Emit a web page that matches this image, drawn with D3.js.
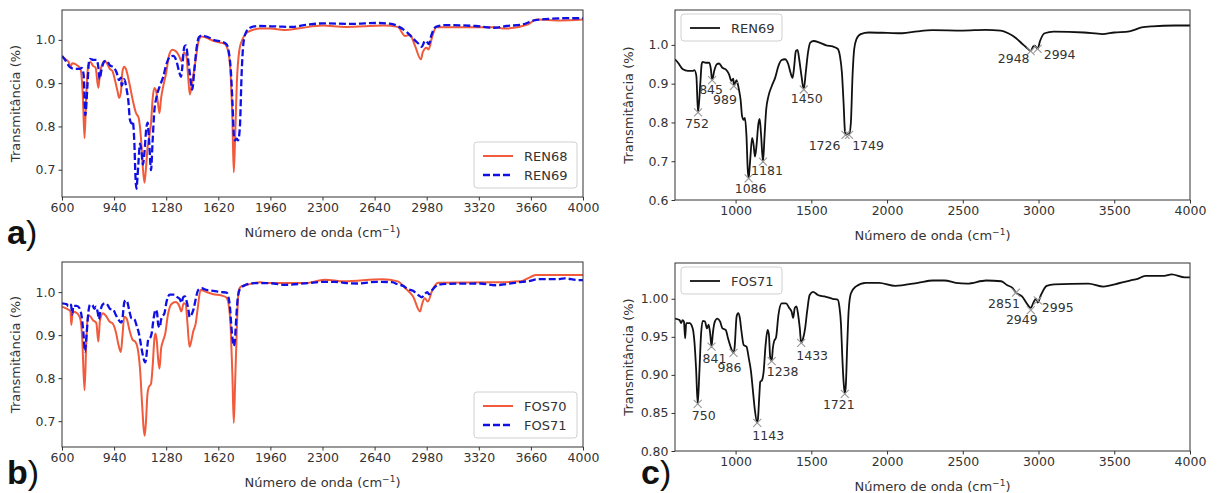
<!DOCTYPE html>
<html>
<head>
<meta charset="utf-8">
<script src="https://cdn.jsdelivr.net/npm/d3@7"></script>
<style>
  body { margin: 0; background: #fff; }
  text { font-family: "DejaVu Sans", sans-serif; fill: #333; }
</style>
</head>
<body>
<div id="chart"></div>
<script>
var width = 1218
var height = 493

// x ticks
var ticksLeft = [600, 940, 1280, 1620, 1960, 2300, 2640, 2980, 3320, 3660, 4000]
var ticksRight = [1000, 1500, 2000, 2500, 3000, 3500, 4000]
var ticksYab = [0.7, 0.8, 0.9, 1.0]
var ticksYc = [0.6, 0.7, 0.8, 0.9, 1.0]
var ticksYd = [0.80, 0.85, 0.90, 0.95, 1.00]

// spectra [wavenumber, transmittance]
var ren68 = [[600,0.963],[622,0.955],[644,0.949],[655,0.936],[666,0.946],[688,0.944],[721,0.932],[736,0.87],[747,0.773],[758,0.87],[771,0.94],[786,0.949],[802,0.94],[819,0.936],[837,0.889],[848,0.924],[863,0.944],[881,0.951],[896,0.944],[912,0.933],[929,0.928],[947,0.905],[962,0.882],[973,0.866],[984,0.878],[995,0.928],[1006,0.938],[1017,0.933],[1039,0.901],[1061,0.862],[1083,0.831],[1100,0.82],[1116,0.77],[1127,0.708],[1138,0.67],[1149,0.708],[1159,0.754],[1170,0.777],[1181,0.808],[1192,0.866],[1203,0.889],[1214,0.882],[1225,0.858],[1236,0.831],[1247,0.866],[1263,0.897],[1280,0.924],[1298,0.963],[1320,0.977],[1342,0.974],[1364,0.963],[1379,0.951],[1396,0.971],[1412,0.963],[1423,0.916],[1434,0.874],[1445,0.893],[1456,0.916],[1473,0.955],[1489,0.994],[1511,1.008],[1543,1.005],[1587,0.998],[1631,0.994],[1664,0.99],[1686,0.971],[1701,0.916],[1712,0.816],[1721,0.694],[1730,0.777],[1741,0.901],[1758,0.978],[1774,0.998],[1796,1.013],[1829,1.021],[1894,1.026],[1960,1.026],[2050,1.023],[2150,1.027],[2300,1.033],[2450,1.03],[2700,1.033],[2790,1.03],[2840,1.009],[2870,1.012],[2904,0.986],[2942,0.955],[2954,0.971],[2979,0.982],[2992,0.978],[3017,1.009],[3042,1.029],[3200,1.029],[3418,1.029],[3493,1.026],[3643,1.036],[3694,1.047],[3850,1.045],[4000,1.047]]

var ren69 = [[600,0.963],[620,0.954],[652,0.937],[685,0.933],[717,0.933],[728,0.935],[741,0.92],[752,0.826],[767,0.90],[776,0.95],[782,0.956],[804,0.954],[826,0.954],[837,0.937],[845,0.909],[859,0.933],[876,0.95],[891,0.952],[913,0.941],[935,0.937],[957,0.924],[972,0.907],[985,0.913],[989,0.894],[1006,0.909],[1022,0.885],[1033,0.859],[1043,0.816],[1054,0.807],[1061,0.812],[1072,0.764],[1080,0.68],[1086,0.656],[1092,0.68],[1098,0.712],[1109,0.76],[1118,0.745],[1128,0.712],[1138,0.74],[1150,0.795],[1159,0.809],[1168,0.77],[1181,0.699],[1191,0.764],[1202,0.833],[1217,0.868],[1239,0.894],[1261,0.915],[1283,0.946],[1304,0.961],[1326,0.963],[1348,0.95],[1363,0.928],[1376,0.915],[1385,0.937],[1398,0.984],[1409,0.987],[1420,0.963],[1435,0.92],[1450,0.885],[1463,0.928],[1478,0.98],[1493,1.006],[1515,1.01],[1554,1.006],[1598,0.999],[1641,0.996],[1674,0.99],[1689,0.971],[1702,0.928],[1713,0.85],[1722,0.777],[1728,0.768],[1741,0.772],[1749,0.768],[1761,0.799],[1772,0.92],[1783,0.989],[1798,1.015],[1826,1.028],[1880,1.032],[2000,1.031],[2100,1.03],[2200,1.035],[2300,1.038],[2500,1.037],[2650,1.039],[2750,1.037],[2800,1.03],[2850,1.018],[2900,1.0],[2930,0.99],[2948,0.984],[2965,0.996],[2975,0.998],[2994,0.99],[3010,1.01],[3040,1.03],[3100,1.034],[3300,1.032],[3420,1.028],[3500,1.032],[3600,1.035],[3680,1.045],[3750,1.048],[3900,1.05],[4000,1.05]]

var fos70 = [[600,0.966],[633,0.961],[655,0.955],[661,0.924],[670,0.955],[699,0.951],[721,0.935],[732,0.892],[747,0.772],[758,0.877],[769,0.947],[786,0.943],[802,0.935],[824,0.928],[837,0.885],[848,0.935],[868,0.951],[890,0.943],[912,0.931],[929,0.928],[951,0.908],[969,0.877],[984,0.861],[995,0.9],[1006,0.943],[1021,0.939],[1043,0.908],[1061,0.889],[1078,0.885],[1094,0.869],[1109,0.822],[1122,0.744],[1133,0.682],[1140,0.666],[1149,0.705],[1157,0.76],[1166,0.779],[1181,0.787],[1192,0.83],[1203,0.892],[1210,0.904],[1219,0.885],[1227,0.846],[1236,0.822],[1247,0.869],[1258,0.885],[1274,0.904],[1291,0.947],[1313,0.972],[1342,0.977],[1364,0.969],[1379,0.955],[1394,0.974],[1407,0.972],[1418,0.931],[1432,0.873],[1443,0.885],[1456,0.908],[1473,0.928],[1486,0.963],[1504,1.005],[1543,1.0],[1587,0.995],[1642,0.992],[1671,0.988],[1686,0.974],[1701,0.916],[1712,0.807],[1721,0.696],[1730,0.791],[1741,0.916],[1752,1.002],[1767,1.013],[1807,1.017],[1894,1.023],[1939,1.021],[2189,1.021],[2315,1.029],[2440,1.025],[2691,1.03],[2791,1.025],[2841,1.009],[2891,0.99],[2937,0.955],[2949,0.971],[2967,0.986],[2987,0.978],[3017,1.005],[3054,1.022],[3443,1.023],[3593,1.025],[3656,1.035],[3694,1.04],[3850,1.04],[4000,1.04]]

var fos71 = [[600,0.974],[630,0.972],[641,0.968],[650,0.972],[659,0.97],[667,0.948],[674,0.968],[696,0.968],[717,0.961],[728,0.944],[739,0.909],[750,0.862],[761,0.904],[772,0.953],[783,0.971],[798,0.97],[811,0.961],[822,0.966],[833,0.953],[841,0.937],[850,0.955],[863,0.97],[880,0.974],[898,0.97],[913,0.961],[935,0.959],[950,0.948],[967,0.937],[986,0.929],[993,0.935],[1007,0.977],[1017,0.981],[1028,0.975],[1039,0.957],[1054,0.939],[1072,0.937],[1087,0.922],[1102,0.904],[1115,0.878],[1126,0.856],[1143,0.837],[1148,0.843],[1157,0.874],[1163,0.891],[1174,0.893],[1185,0.904],[1198,0.939],[1211,0.959],[1220,0.953],[1228,0.924],[1238,0.918],[1246,0.935],[1254,0.944],[1267,0.949],[1283,0.979],[1304,0.994],[1333,0.994],[1354,0.988],[1370,0.983],[1380,0.975],[1391,0.988],[1402,0.99],[1413,0.979],[1424,0.961],[1433,0.942],[1446,0.948],[1459,0.961],[1472,0.983],[1489,1.005],[1511,1.009],[1543,1.005],[1587,1.003],[1641,1.0],[1674,0.999],[1685,0.99],[1696,0.966],[1704,0.926],[1713,0.891],[1721,0.875],[1728,0.887],[1737,0.939],[1746,0.983],[1761,1.007],[1793,1.016],[1859,1.021],[1946,1.021],[2054,1.017],[2204,1.021],[2304,1.024],[2379,1.024],[2454,1.021],[2529,1.02],[2654,1.024],[2754,1.023],[2791,1.018],[2829,1.014],[2851,1.008],[2891,1.003],[2929,0.992],[2949,0.988],[2966,0.995],[2984,1.0],[2995,0.995],[3016,1.005],[3054,1.017],[3104,1.019],[3329,1.02],[3429,1.016],[3504,1.019],[3604,1.024],[3654,1.026],[3704,1.03],[3829,1.03],[3879,1.032],[3966,1.028],[4000,1.028]]

// marked peaks [wavenumber, transmittance]
var ren69Peaks = [[752,0.826],[845,0.909],[989,0.894],[1086,0.656],[1181,0.699],[1450,0.885],[1726,0.768],[1749,0.768],[2948,0.984],[2994,0.99]]
var fos71Peaks = [[750,0.862],[841,0.937],[986,0.929],[1143,0.837],[1238,0.918],[1433,0.942],[1721,0.875],[2851,1.008],[2949,0.985],[2995,0.998]]

// label nudges (px) for the peak annotations
var ren69Nudge = [[-1,16],[-1,14],[-9,18],[2,15],[4,13],[3,14],[-21,15],[19,15],[-17,12],[22,10]]
var fos71Nudge = [[6,16],[3,16],[-4,19],[11,17],[11,15],[11,17],[-6,15],[-12,15],[-9,14],[20,12]]

var ORANGE = "#f15a3a"
var BLUE = "#1010e6"

var svg = d3.select("#chart")
    .append("svg")
    .attr("width", width)
    .attr("height", height)

function drawPanel(p, idx) {

    var x = d3.scaleLinear().domain([600, 4000]).range([p.left, p.right])
    var y = d3.scaleLinear().domain(p.yDomain).range([p.bottom, p.top])

    var g = svg.append("g")

    g.append("clipPath").attr("id", "clip" + idx)
        .append("rect")
        .attr("x", p.left).attr("y", p.top)
        .attr("width", p.right - p.left).attr("height", p.bottom - p.top)

    var line = d3.line()
        .x(d => x(d[0]))
        .y(d => y(d[1]))
        .curve(d3.curveMonotoneX)

    var plot = g.append("g").attr("clip-path", "url(#clip" + idx + ")")

    p.series.forEach(function(s) {
        plot.append("path")
            .attr("d", line(s.data))
            .attr("fill", "none")
            .attr("stroke", s.color)
            .attr("stroke-width", s.width)
            .attr("stroke-dasharray", s.dash || null)
            .attr("stroke-linejoin", "round")
    })

    if (p.peaks) {
        var pk = g.append("g")
        p.peaks.forEach(function(d, i) {
            var px = x(d[0]), py = y(d[1])
            pk.append("path")
                .attr("d", `M${px-4},${py-4}L${px+4},${py+4}M${px-4},${py+4}L${px+4},${py-4}`)
                .attr("stroke", "#999").attr("stroke-width", 1.1)
            pk.append("text")
                .attr("x", px + p.nudge[i][0])
                .attr("y", py + p.nudge[i][1])
                .attr("text-anchor", "middle")
                .attr("font-size", 12.5)
                .text(d[0])
        })
    }

    var xAxis = g.append("g")
        .attr("transform", `translate(0,${p.bottom})`)
        .call(d3.axisBottom(x).tickValues(p.xTicks).tickSize(3.5).tickPadding(3).tickFormat(d3.format("d")))
    var yAxis = g.append("g")
        .attr("transform", `translate(${p.left},0)`)
        .call(d3.axisLeft(y).tickValues(p.yTicks).tickSize(3.5).tickPadding(3).tickFormat(d3.format(p.yFmt)))

    ;[xAxis, yAxis].forEach(function(a) {
        a.select(".domain").remove()
        a.selectAll(".tick line").attr("stroke", "#333")
        a.selectAll(".tick text").attr("font-size", 12.5).attr("fill", "#333")
            .style("font-family", "DejaVu Sans, sans-serif")
    })

    g.append("rect")
        .attr("x", p.left).attr("y", p.top)
        .attr("width", p.right - p.left).attr("height", p.bottom - p.top)
        .attr("fill", "none").attr("stroke", "#333").attr("stroke-width", 1)

    // axis titles
    var xl = g.append("text")
        .attr("x", (p.left + p.right) / 2)
        .attr("y", p.bottom + 40)
        .attr("text-anchor", "middle")
        .attr("font-size", 13)
    xl.append("tspan").text("Número de onda (cm")
    xl.append("tspan").attr("dy", -5).attr("font-size", 9).text("−1")
    xl.append("tspan").attr("dy", 5).text(")")

    g.append("text")
        .attr("transform", `translate(${p.left - 42},${(p.top + p.bottom) / 2}) rotate(-90)`)
        .attr("text-anchor", "middle")
        .attr("font-size", 13)
        .text("Transmitância (%)")

    // legend
    var lg = g.append("g")
    var lw = p.legend.w, lh = 8 + p.series.length * 19
    var lx = p.legend.right ? p.right - 6 - lw : p.left + 6
    var ly = p.legend.right ? p.bottom - 9 - lh : p.top + 4
    lg.append("rect")
        .attr("x", lx).attr("y", ly).attr("width", lw).attr("height", lh)
        .attr("rx", 3).attr("fill", "#fff").attr("stroke", "#d0d0d0")
    p.series.forEach(function(s, i) {
        var yy = ly + 14 + i * 19
        lg.append("line")
            .attr("x1", lx + 9).attr("x2", lx + 39).attr("y1", yy).attr("y2", yy)
            .attr("stroke", s.color).attr("stroke-width", s.width)
            .attr("stroke-dasharray", s.dash || null)
        lg.append("text")
            .attr("x", lx + 50).attr("y", yy + 5)
            .attr("font-size", 13)
            .text(s.name)
    })

    if (p.letter) {
        var t = svg.append("text")
            .attr("x", p.letter[1]).attr("y", p.letter[2])
            .style("font-family", "Liberation Sans, Arial, sans-serif")
            .attr("font-size", 34).attr("fill", "#111")
        t.append("tspan").attr("font-weight", "bold").style("fill", "#111").text(p.letter[0])
        t.append("tspan").attr("font-weight", "normal").style("fill", "#111").text(")")
    }
}

var panels = [
    { left: 62, right: 583, top: 10, bottom: 197, yDomain: [0.637, 1.069], yTicks: ticksYab, yFmt: ".1f",
      xTicks: ticksLeft, legend: { right: true, w: 103 }, letter: ["a", 7, 244],
      series: [
        { name: "REN68", data: ren68, color: ORANGE, width: 2 },
        { name: "REN69", data: ren69, color: BLUE, width: 2.3, dash: "7,3" }
      ] },
    { left: 62, right: 583, top: 262, bottom: 447, yDomain: [0.64, 1.07], yTicks: ticksYab, yFmt: ".1f",
      xTicks: ticksLeft, legend: { right: true, w: 103 }, letter: ["b", 7, 484],
      series: [
        { name: "FOS70", data: fos70, color: ORANGE, width: 2 },
        { name: "FOS71", data: fos71, color: BLUE, width: 2.3, dash: "7,3" }
      ] },
    { left: 675, right: 1190, top: 10, bottom: 200, yDomain: [0.6, 1.09], yTicks: ticksYc, yFmt: ".1f",
      xTicks: ticksRight, legend: { right: false, w: 101 },
      peaks: ren69Peaks, nudge: ren69Nudge,
      series: [ { name: "REN69", data: ren69, color: "#111", width: 1.8 } ] },
    { left: 675, right: 1190, top: 263, bottom: 451, yDomain: [0.8, 1.047], yTicks: ticksYd, yFmt: ".2f",
      xTicks: ticksRight, legend: { right: false, w: 101 }, letter: ["c", 641, 484],
      peaks: fos71Peaks, nudge: fos71Nudge,
      series: [ { name: "FOS71", data: fos71, color: "#111", width: 1.8 } ] }
]

panels.forEach(drawPanel)
</script>
</body>
</html>
